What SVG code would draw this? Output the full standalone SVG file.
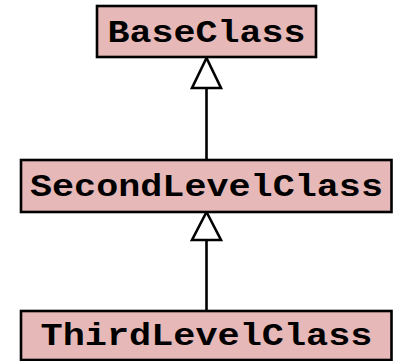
<svg xmlns="http://www.w3.org/2000/svg" width="397" height="361" viewBox="0 0 397 361">
  <defs>
    <style>
      .box { fill: #e6b8b7; stroke: #000; stroke-width: 2.6; }
      .label { font-family: "Liberation Mono", "Courier New", monospace; font-weight: bold; font-size: 31px; fill: #000; text-anchor: middle; }
      .edge { stroke: #000; stroke-width: 2.6; fill: none; }
      .head { fill: #fff; stroke: #000; stroke-width: 2.6; stroke-linejoin: miter; }
    </style>
  </defs>
  <rect width="397" height="361" fill="#fff"/>

  <!-- inheritance connectors with hollow triangle heads -->
  <g id="connectors">
    <line class="edge" x1="206.5" y1="88" x2="206.5" y2="160"/>
    <polygon class="head" points="206.5,58 192,88 221,88"/>
    <line class="edge" x1="206.5" y1="240" x2="206.5" y2="311"/>
    <polygon class="head" points="206.5,212 192,240 221,240"/>
  </g>

  <g id="BaseClass">
    <rect class="box" x="97" y="6" width="219" height="51"/>
    <text class="label" x="206.5" y="42" textLength="198" lengthAdjust="spacingAndGlyphs">BaseClass</text>
  </g>

  <g id="SecondLevelClass">
    <rect class="box" x="21" y="160" width="370.5" height="52"/>
    <text class="label" x="206.5" y="196" textLength="353" lengthAdjust="spacingAndGlyphs">SecondLevelClass</text>
  </g>

  <g id="ThirdLevelClass">
    <rect class="box" x="21" y="311" width="370.5" height="49"/>
    <text class="label" x="206.5" y="345" textLength="332" lengthAdjust="spacingAndGlyphs">ThirdLevelClass</text>
  </g>
</svg>
